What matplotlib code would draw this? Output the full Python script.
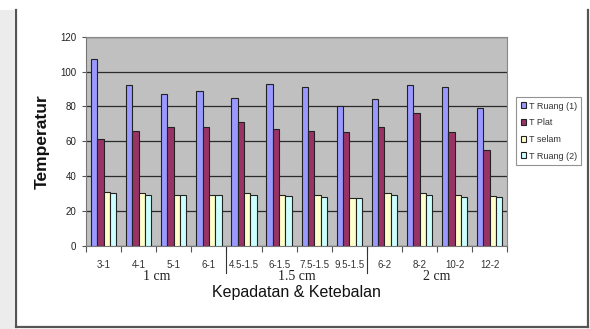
import matplotlib
matplotlib.use("Agg")
import matplotlib.pyplot as plt
import numpy as np
from matplotlib.lines import Line2D
from matplotlib.patches import Rectangle
import matplotlib.transforms as mtransforms

# Data
categories = ["3-1", "4-1", "5-1", "6-1", "4.5-1.5", "6-1.5", "7.5-1.5", "9.5-1.5",
              "6-2", "8-2", "10-2", "12-2"]
groups = ["1 cm", "1.5 cm", "2 cm"]
group_sizes = [4, 4, 4]
series_names = ["T Ruang (1)", "T Plat", "T selam", "T Ruang (2)"]
t_ruang1 = [107, 92, 87, 89, 85, 93, 91, 80, 84, 92, 91, 79]
t_plat = [61, 66, 68, 68, 71, 67, 66, 65, 68, 76, 65, 55]
t_selam = [31, 30, 29, 29, 30, 29, 29, 27.5, 30, 30, 29, 28.5]
t_ruang2 = [30, 29, 29, 29, 29, 28.5, 28, 27.5, 29, 29, 28, 28]
colors = ["#9999FF", "#993366", "#FFFFCC", "#CCFFFF"]
yticks = [0, 20, 40, 60, 80, 100, 120]

plt.rcParams["font.family"] = ["Liberation Sans", "DejaVu Sans"]

fig = plt.figure(figsize=(5.9, 3.29), dpi=100)
fig.patch.set_facecolor("white")

# Outer chart frame
W, H = 590.0, 329.0
fig.add_artist(Rectangle((0, 0), 14 / W, 1 - 10 / H, transform=fig.transFigure,
                         facecolor="#ececec", edgecolor="none", zorder=0))
fig.add_artist(Line2D([15.5 / W, 15.5 / W], [1 - 10 / H, 1 - 326.5 / H],
                      transform=fig.transFigure, color="#555555", lw=1.6))
fig.add_artist(Line2D([15.5 / W, 588 / W], [1 - 326.5 / H, 1 - 326.5 / H],
                      transform=fig.transFigure, color="#555555", lw=1.6))
fig.add_artist(Line2D([588 / W, 588 / W], [1 - 10 / H, 1 - 326.5 / H],
                      transform=fig.transFigure, color="#555555", lw=1.6))

ax = fig.add_axes([86 / W, 1 - 245.7 / H, (507.3 - 86) / W, (245.7 - 36.7) / H])
ax.set_facecolor("#C0C0C0")

n = len(categories)
x = np.arange(n)
bw = 0.18
all_series = [t_ruang1, t_plat, t_selam, t_ruang2]
handles = []
for i, (vals, c, name) in enumerate(zip(all_series, colors, series_names)):
    b = ax.bar(x + (i - 1.5) * bw, vals, width=bw, color=c, edgecolor="#222222",
               linewidth=0.8, label=name, zorder=3)
    handles.append(b)

ax.set_xlim(-0.5, n - 0.5)
ax.set_ylim(0, 120)
ax.set_yticks(yticks)
ax.set_yticklabels([str(v) for v in yticks], fontsize=7, color="#222222")
ax.yaxis.grid(True, color="#2a2a2a", linewidth=0.9, zorder=0)
ax.set_axisbelow(True)
ax.tick_params(axis="y", length=3, width=0.8, color="#555555", pad=4)

ax.set_xticks(x)
ax.set_xticklabels(categories, fontsize=7, color="#333333")
ax.tick_params(axis="x", which="major", length=0, pad=10)
ax.set_xticks(np.arange(-0.5, n, 1.0), minor=True)
ax.tick_params(axis="x", which="minor", length=4, width=0.8, color="#555555")

for s in ["top", "right"]:
    ax.spines[s].set_color("#888888")
    ax.spines[s].set_linewidth(0.8)
ax.spines["left"].set_color("#777777")
ax.spines["bottom"].set_color("#777777")

# Group separators and group labels
trans = mtransforms.blended_transform_factory(ax.transData, ax.transAxes)
start = 0
for gi, (g, size) in enumerate(zip(groups, group_sizes)):
    center = start + (size - 1) / 2.0
    ax.text(center, -0.145, g, transform=trans, ha="center", va="center",
            fontsize=10, family=["Liberation Serif", "DejaVu Serif"], color="#222222")
    if gi < len(groups) - 1:
        ax.plot([start + size - 0.5] * 2, [0, -0.13], transform=trans,
                color="#333333", lw=0.8, clip_on=False)
    start += size

ax.text(0.5, -0.225, "Kepadatan & Ketebalan", transform=ax.transAxes,
        ha="center", va="center", fontsize=11.5, color="#111111")
fig.text(42 / W, 1 - 141.5 / H, "Temperatur", rotation=90, ha="center", va="center",
         fontsize=12.5, fontweight="bold", color="#111111")

leg = fig.legend(handles=handles, labels=series_names, loc="upper left",
                 bbox_to_anchor=(516 / W, 1 - 97 / H), fontsize=6.5,
                 frameon=True, fancybox=False, handlelength=0.6, handleheight=0.6,
                 handletextpad=0.3, labelspacing=0.85, borderpad=0.5,
                 borderaxespad=0)
leg.get_frame().set_edgecolor("#777777")
leg.get_frame().set_linewidth(0.8)
for t in leg.get_texts():
    t.set_color("#333333")

fig.savefig("out.png", dpi=100, facecolor="white")
